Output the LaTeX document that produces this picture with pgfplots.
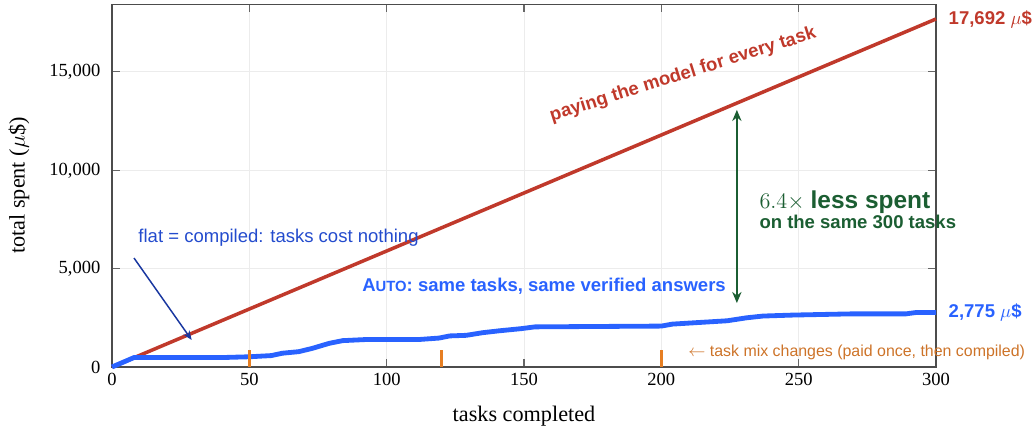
\documentclass[border=0pt]{standalone}
\usepackage{pgfplots}
\pgfplotsset{compat=1.18}
\usepackage{fontspec}
\setmainfont{Liberation Serif}
\setsansfont{Liberation Sans}
\usetikzlibrary{arrows.meta}
\definecolor{cred}{RGB}{192,57,43}
\definecolor{cblue}{RGB}{41,98,255}
\definecolor{cflat}{RGB}{35,75,205}
\definecolor{cflatarrow}{RGB}{25,55,160}
\definecolor{cgreen}{RGB}{27,94,50}
\definecolor{corange}{RGB}{230,126,34}
\definecolor{corangetext}{RGB}{205,115,40}
\begin{document}
\begin{tikzpicture}
\begin{axis}[
  scale only axis,
  width=445pt, height=196pt,
  xmin=0, xmax=300, ymin=0, ymax=18450,
  xtick={0,50,100,150,200,250,300},
  ytick={0,5000,10000,15000},
  scaled y ticks=false,
  /pgf/number format/.cd, 1000 sep={,}, assume math mode=true, /pgfplots/.cd,
  grid=major,
  major grid style={gray!15, line width=0.5pt},
  tick style={gray!80!black, line width=0.6pt},
  axis line style={black!70, line width=0.6pt},
  tick align=inside,
  yticklabel style={xshift=-2.8pt},
  xlabel={\large tasks completed},
  ylabel={\large total spent ($\mu$\$)},
  xlabel shift=4pt,
  ylabel shift=4pt,
  clip=false,
]
% paying the model for every task
\addplot[cred, line width=1.9pt] coordinates {(0,0) (300,17692)};
% AUTO
\addplot[cblue, line width=2.6pt, line join=round] coordinates {
(0,0) (8,480) (40,480) (50,520) (58,580) (62,700) (68,780) (73,950) (79,1200) (84,1340) (93,1400) (112,1400) (119,1470) (123,1580) (129,1610) (135,1745) (141,1840) (149,1950) (154,2040) (200,2080) (204,2180) (224,2350) (231,2500) (237,2590) (248,2640) (269,2700) (289,2700) (293,2775) (300,2775)};
% task mix change markers
\addplot[corange, line width=1.6pt] coordinates {(50,0) (50,850)};
\addplot[corange, line width=1.6pt] coordinates {(120,0) (120,850)};
\addplot[corange, line width=1.6pt] coordinates {(200,0) (200,850)};
% gap arrow
\draw[cgreen, line width=1.3pt, {Stealth[length=6pt,width=5pt]}-{Stealth[length=6pt,width=5pt]}] (axis cs:227.5,3250) -- (axis cs:227.5,13070);
% flat arrow
\draw[cflatarrow, line width=0.8pt, -{Stealth[length=5pt,width=4pt]}] (axis cs:8,5540) -- (axis cs:29,1373);
% labels
\node[cred, font=\sffamily\bfseries, rotate=17.5] at (axis cs:207.9,14845) {paying the model for every task};
\node[cflat, font=\sffamily, anchor=west, inner sep=0pt] at (axis cs:9.5,6558) {flat = compiled: tasks cost nothing};
\node[cblue, font=\sffamily\bfseries] at (axis cs:157.3,4118) {A{\fontsize{8}{9}\selectfont UTO}: same tasks, same verified answers};
\node[cgreen, anchor=west, align=left, inner sep=0pt] at (axis cs:235.6,7980) {{\fontsize{13.2}{15}\selectfont $6.4\times$ \sffamily\bfseries less spent}\\[-1pt]{\sffamily\bfseries on the same 300 tasks}};
\node[corangetext, font=\sffamily\fontsize{8.6}{10}\selectfont, anchor=west, inner sep=0pt] at (axis cs:209.7,763) {$\leftarrow$ task mix changes (paid once, then compiled)};
\node[cred, font=\sffamily\bfseries, anchor=west, inner sep=0pt] at (axis cs:304.5,17692) {17,692 $\mu$\$};
\node[cblue, font=\sffamily\bfseries, anchor=west, inner sep=0pt] at (axis cs:304.5,2775) {2,775 $\mu$\$};
\end{axis}
\pgfresetboundingbox
\path ([shift={(-60.5pt,-34.6pt)}]current axis.south west) rectangle ([shift={(54pt,2.2pt)}]current axis.north east);
\end{tikzpicture}
\end{document}
